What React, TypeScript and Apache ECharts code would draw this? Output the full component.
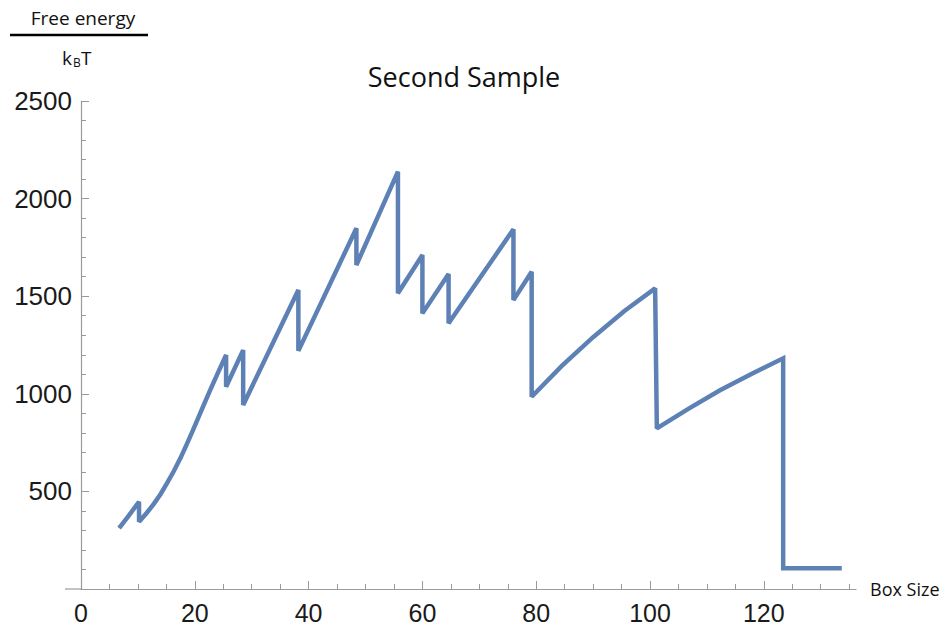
import React, { useEffect, useRef } from "react";
import * as echarts from "echarts";

const boxSize: number[] = [
  6.7, 8.5, 10.2, 10.2, 11.5, 12.8, 14.0, 15.1, 16.3, 17.5, 18.6, 19.7, 21.2, 22.7, 24.1, 25.5,
  25.5, 28.5, 28.5, 38.2, 38.2, 48.4, 48.4, 55.7, 55.7, 60.0, 60.0, 64.6, 64.6, 76.0, 76.0, 79.2,
  79.2, 84.5, 90.0, 95.5, 100.9, 101.2, 106.8, 112.3, 117.9, 123.4, 123.4, 133.7,
];
const freeEnergy: number[] = [
  312, 380, 447, 345, 388, 436, 487, 541, 603, 672, 742, 815, 918, 1019, 1110, 1199,
  1036, 1224, 943, 1532, 1220, 1848, 1660, 2138, 1515, 1711, 1412, 1614, 1361, 1843, 1480, 1625,
  985, 1143, 1290, 1424, 1540, 823, 924, 1018, 1103, 1182, 106, 106,
];
const xMajorTicks: number[] = [0, 20, 40, 60, 80, 100, 120];
const xMinorTicks: number[] = [
  5, 10, 15, 25, 30, 35, 45, 50, 55, 65, 70, 75, 85, 90, 95, 105, 110, 115, 125, 130, 135,
];
const yTickInterval = 500;
const yMax = 2500;
const xMax = 136.2;

const titleText = "Second Sample";
const xName = "Box Size";
const yNameTop = "Free energy";

export default function App() {
  const ref = useRef<HTMLDivElement>(null);
  useEffect(() => {
    document.body.style.margin = "0";
    if (!ref.current) return;
    const chart = echarts.init(ref.current, null, { renderer: "svg" });
    const data = boxSize.map((x, i) => [x, freeEnergy[i]]);
    const axisColor = "#9a9a9a";
    const labelFont = "'Liberation Sans', Arial, sans-serif";
    const textFont = "'Open Sans', 'Noto Sans', sans-serif";
    chart.setOption({
      animation: false,
      backgroundColor: "#ffffff",
      grid: { left: 81, top: 101, width: 775, height: 488 },
      xAxis: [
        {
          type: "value",
          min: 0,
          max: xMax,
          position: "bottom",
          name: xName,
          nameLocation: "end",
          nameGap: 14,
          nameTextStyle: {
            fontFamily: textFont,
            fontSize: 18,
            color: "#111",
            padding: [0, 0, 8, 0],
          },
          axisLine: { show: true, onZero: false, lineStyle: { color: axisColor, width: 1.2 } },
          axisTick: {
            show: true,
            inside: true,
            length: 8,
            customValues: xMajorTicks,
            lineStyle: { color: axisColor, width: 1 },
          },
          axisLabel: {
            customValues: xMajorTicks,
            fontFamily: labelFont,
            fontSize: 25,
            color: "#1a1a1a",
            margin: 11,
            formatter: (v: number) => String(v),
          },
          splitLine: { show: false },
        },
        {
          type: "value",
          min: 0,
          max: xMax,
          position: "bottom",
          axisLine: { show: false },
          axisTick: {
            show: true,
            inside: true,
            length: 5,
            customValues: xMinorTicks,
            lineStyle: { color: axisColor, width: 1 },
          },
          axisLabel: { show: false },
          splitLine: { show: false },
        },
      ],
      yAxis: {
        type: "value",
        min: 0,
        max: yMax,
        interval: yTickInterval,
        axisLine: { show: true, onZero: false, lineStyle: { color: axisColor, width: 1.2 } },
        axisTick: { show: true, inside: true, length: 8, lineStyle: { color: axisColor, width: 1 } },
        minorTick: { show: true, splitNumber: 5, length: 5, lineStyle: { color: axisColor, width: 1 } },
        axisLabel: {
          showMinLabel: false,
          fontFamily: labelFont,
          fontSize: 26,
          color: "#1a1a1a",
          margin: 9,
          formatter: (v: number) => String(v),
        },
        splitLine: { show: false },
        minorSplitLine: { show: false },
      },
      series: [
        {
          type: "line",
          xAxisIndex: 0,
          data,
          showSymbol: false,
          symbol: "none",
          lineStyle: { color: "#5E81B5", width: 4.5, join: "miter", miterLimit: 2 },
        },
      ],
      graphic: [
        {
          type: "line",
          shape: { x1: 65, y1: 589, x2: 81, y2: 589 },
          style: { stroke: axisColor, lineWidth: 1.2 },
          silent: true,
        },
        {
          type: "text",
          x: 464,
          y: 76,
          style: {
            text: titleText,
            fontFamily: textFont,
            fontSize: 27,
            fill: "#111",
            align: "center",
            verticalAlign: "middle",
          },
        },
        {
          type: "text",
          x: 83,
          y: 18,
          style: {
            text: yNameTop,
            fontFamily: textFont,
            fontSize: 19,
            fill: "#111",
            align: "center",
            verticalAlign: "middle",
          },
        },
        {
          type: "line",
          shape: { x1: 10, y1: 35, x2: 148, y2: 35 },
          style: { stroke: "#000", lineWidth: 2.5 },
        },
        {
          type: "text",
          x: 62,
          y: 58,
          style: { text: "k", fontFamily: textFont, fontSize: 19, fill: "#111", verticalAlign: "middle" },
        },
        {
          type: "text",
          x: 73,
          y: 62,
          style: { text: "B", fontFamily: textFont, fontSize: 12, fill: "#111", verticalAlign: "middle" },
        },
        {
          type: "text",
          x: 81,
          y: 58,
          style: { text: "T", fontFamily: textFont, fontSize: 19, fill: "#111", verticalAlign: "middle" },
        },
      ],
    });
    return () => chart.dispose();
  }, []);
  return <div ref={ref} style={{ width: 945, height: 631 }} />;
}
